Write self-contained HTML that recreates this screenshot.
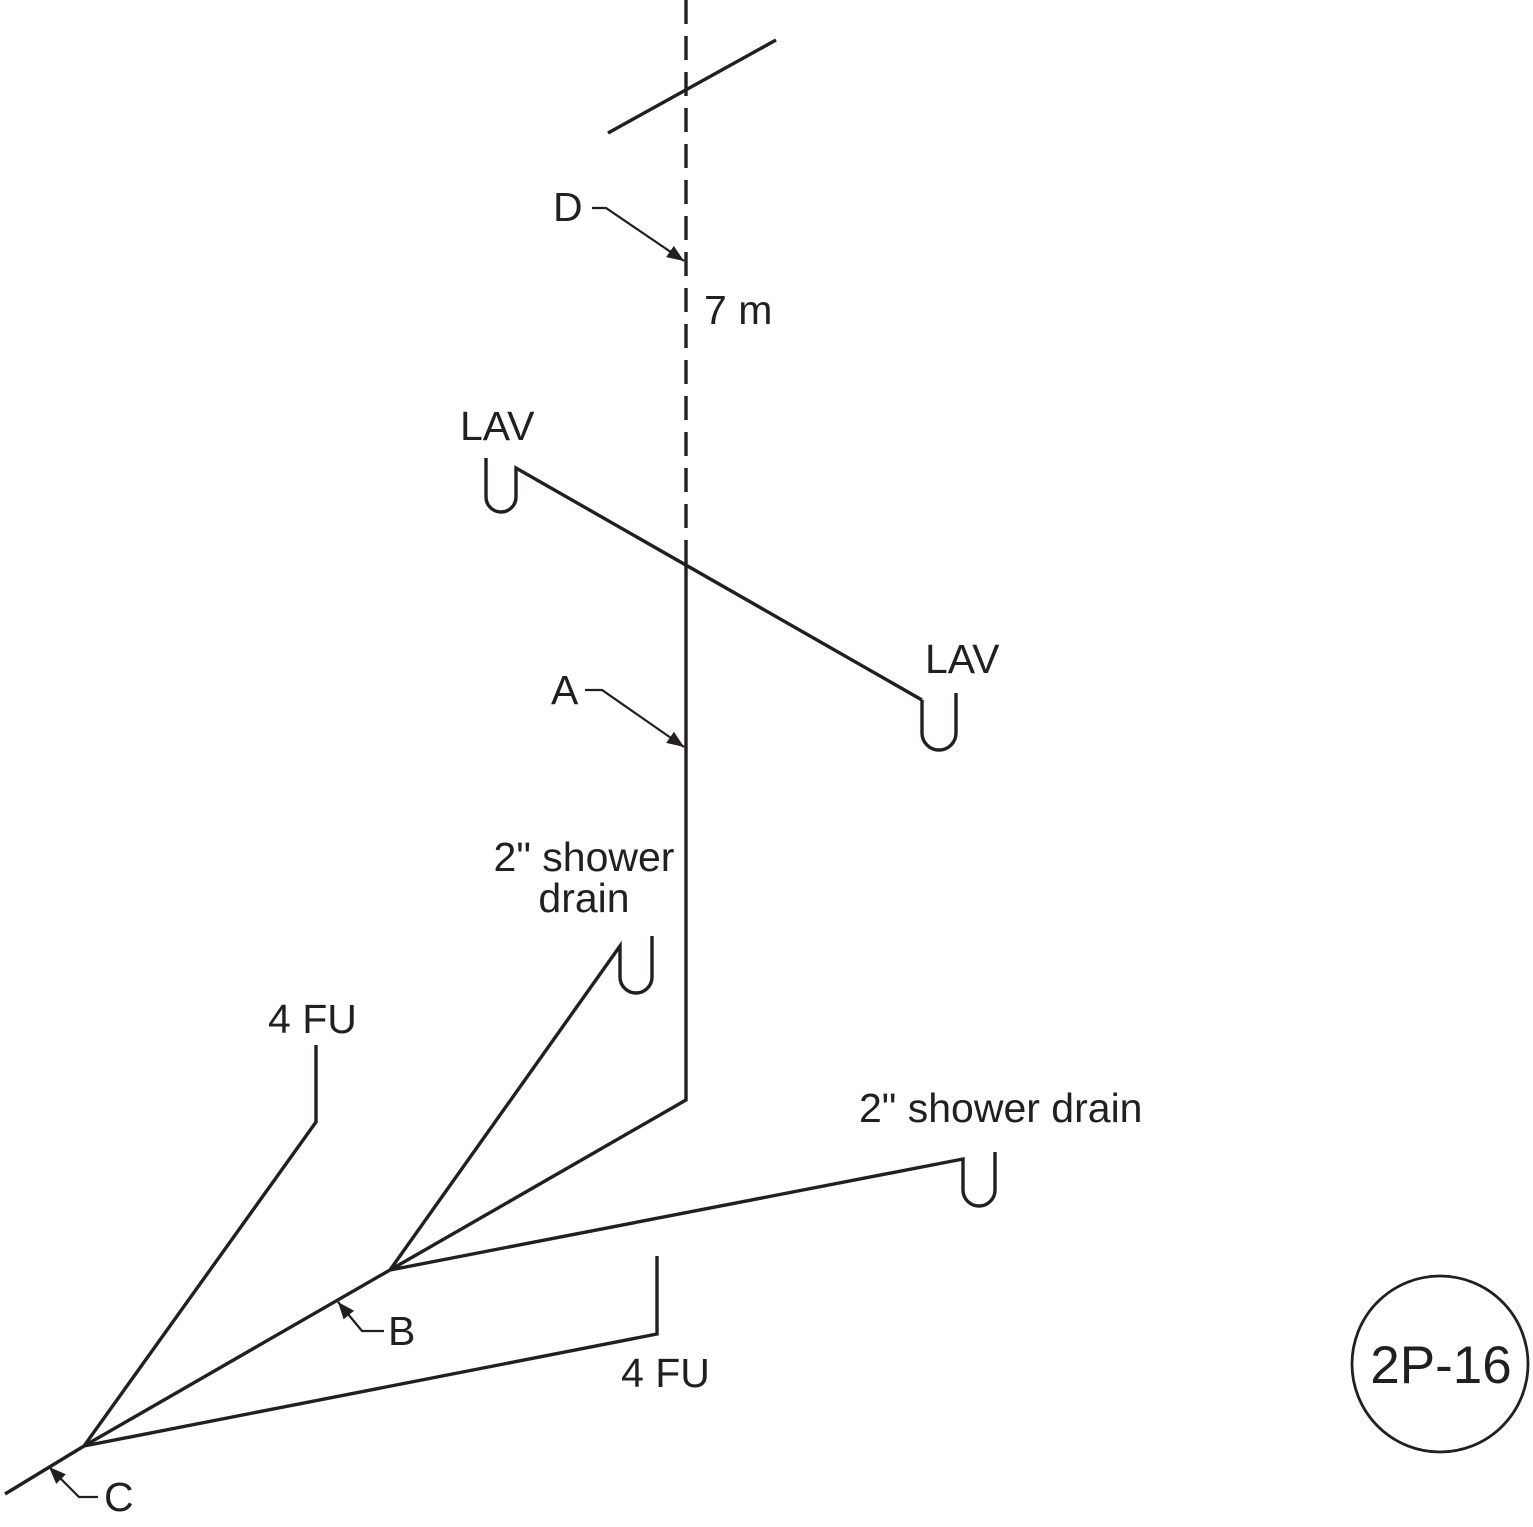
<!DOCTYPE html>
<html><head><meta charset="utf-8"><style>
html,body{margin:0;padding:0;background:#fff}
svg{display:block}
text{font-family:"Liberation Sans",Arial,sans-serif;fill:#231f20}
</style></head><body>
<svg width="1533" height="1527" viewBox="0 0 1533 1527" xmlns="http://www.w3.org/2000/svg">
<defs>
<marker id="ar" viewBox="0 0 10 10" refX="10" refY="5" markerWidth="17" markerHeight="17" markerUnits="userSpaceOnUse" orient="auto"><path d="M0,1 L10,5 L0,9 z" fill="#231f20"/></marker>
</defs>
<g stroke="#231f20" stroke-width="3.4" fill="none" stroke-linejoin="miter">
<line x1="686" y1="0" x2="686" y2="563" stroke-dasharray="24,12"/>
<line x1="608" y1="133" x2="776" y2="40"/>
<polyline points="686,563 686,1100 390,1270 84,1446 5,1494"/>
<path d="M486,458 V497 A15,15 0 0 0 516,497 V468 L922,700"/>
<path d="M922,700 V733 A17,17 0 0 0 956,733 V693"/>
<path d="M390,1270 L620,946 V977 A16,16 0 0 0 652,977 V936"/>
<path d="M390,1270 L963,1159 V1190 A16,16 0 0 0 995,1190 V1152"/>
<polyline points="84,1446 316,1122 316,1045"/>
<polyline points="84,1446 657,1334 657,1256"/>
</g>
<g stroke="#231f20" stroke-width="2.2" fill="none">
<polyline points="592,208 606,208 684,261" marker-end="url(#ar)"/>
<polyline points="585,690 602,690 684,747" marker-end="url(#ar)"/>
<polyline points="384,1331 362,1331 338,1302" marker-end="url(#ar)"/>
<polyline points="98,1497 79,1497 49,1467" marker-end="url(#ar)"/>
</g>
<circle cx="1440" cy="1364" r="88" stroke="#231f20" stroke-width="2.8" fill="none"/>
<g font-size="41">
<text x="553" y="221">D</text>
<text x="704" y="324">7 m</text>
<text x="460" y="440">LAV</text>
<text x="925" y="673">LAV</text>
<text x="551" y="704">A</text>
<text x="584" y="871" text-anchor="middle">2" shower</text>
<text x="584" y="912" text-anchor="middle">drain</text>
<text x="268" y="1033">4 FU</text>
<text x="859" y="1122">2" shower drain</text>
<text x="388" y="1345">B</text>
<text x="621" y="1387">4 FU</text>
<text x="104" y="1511">C</text>
<text x="1441" y="1383" text-anchor="middle" font-size="53">2P-16</text>
</g>
</svg>
</body></html>
